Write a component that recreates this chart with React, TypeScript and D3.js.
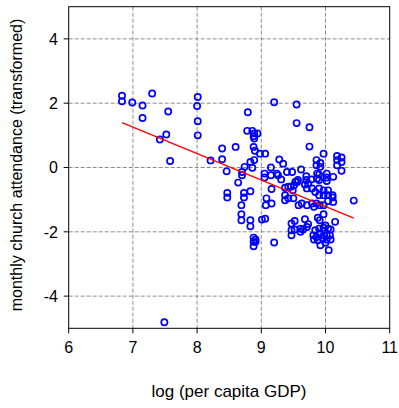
import React from "react";
import * as d3 from "d3";

const gdpLog: number[] = [
  6.83, 6.83, 6.99, 7.15, 7.30, 7.15, 7.55, 7.52, 7.42, 7.58, 8.01, 8.00, 8.01, 8.01, 8.21, 8.39, 8.39, 7.49,
  8.46, 8.47, 8.47, 8.60, 8.64, 8.70, 8.70, 8.74, 8.73, 8.73, 8.83, 8.69, 8.69, 8.69, 8.83, 8.83,
  8.79, 8.78, 8.86, 8.89, 8.88, 8.89, 8.94, 8.88, 8.90, 8.83, 8.89, 8.86,
  8.88, 8.91, 8.88, 8.91, 8.88,
  8.98, 9.06, 9.05, 9.05, 9.15, 9.15, 9.24, 9.26, 9.28, 9.34, 9.20, 9.16, 9.08, 9.07, 9.16, 9.01, 9.06, 9.20,
  9.31, 9.40, 9.48, 9.37, 9.42, 9.49, 9.37, 9.42, 9.50, 9.37, 9.46, 9.51, 9.53, 9.57,
  9.55, 9.55, 9.75, 9.75, 9.97,
  9.62, 9.70, 9.70, 9.78,
  9.86, 9.92, 9.86, 9.92,
  10.18, 10.25, 10.18, 10.25, 10.18, 10.25, 10.12,
  9.87, 9.90, 9.87, 9.90, 10.02, 10.02, 10.02,
  9.56, 9.68, 9.73, 9.71, 9.79, 9.84,
  9.90, 9.97, 10.04, 9.90, 9.97, 10.04, 10.11,
  9.58, 9.63, 9.71, 9.79, 9.82, 9.86, 9.91, 9.97, 10.04, 10.12, 10.11,
  10.44, 9.97, 9.91, 9.88, 9.68, 9.52, 9.47, 9.73, 9.71, 9.47, 9.52, 9.61, 9.65, 9.61, 9.47, 10.15, 10.00,
  9.84, 9.90, 9.97, 10.04, 10.08, 9.81, 9.86, 9.91, 9.97, 10.02, 10.07, 9.82, 9.88, 9.96, 10.02, 10.08, 9.92, 10.00, 10.05,
];

const attendance: number[] = [
  2.23, 2.06, 2.02, 1.93, 2.30, 1.54, 1.74, 1.03, 0.87, 0.20, 2.19, 1.91, 1.44, 1.00, 0.22, 0.59, 0.26, -4.81,
  -0.12, -0.79, -0.93, 0.64, -0.47, -0.14, -0.24, 0.02, -0.79, -0.93, -0.74, -1.17, -1.45, -1.64, -1.64, -1.83,
  1.72, 1.14, 1.14, 1.06, 0.97, 0.90, 1.06, 0.64, 0.52, 0.17, 0.23, -0.01,
  -2.18, -2.24, -2.31, -2.31, -2.45,
  0.43, 0.43, -0.19, -0.31, 0.00, -0.24, -0.19, -0.24, 0.25, 0.12, 2.03, -0.67, -0.96, -1.17, -1.12, -1.62, -1.59, -2.33,
  -0.37, -0.14, -0.14, -0.63, -0.60, -0.71, -0.86, -0.96, -0.96, -1.02, -0.60, -0.55, -0.45, -0.39,
  1.96, 1.38, 1.25, 0.65, 0.43,
  -0.06, -0.27, -0.39, -0.37,
  0.23, 0.14, 0.07, 0.02,
  0.36, 0.31, 0.23, 0.17, 0.07, -0.10, -0.29,
  -0.19, -0.22, -0.34, -0.39, -0.19, -0.31, -0.42,
  -0.45, -0.53, -0.50, -0.65, -0.65, -0.76,
  -0.65, -0.71, -0.71, -0.86, -0.86, -0.86, -0.86,
  -1.17, -1.12, -1.17, -1.12, -1.22, -1.12, -1.17, -1.17, -1.04, -1.07, -0.93,
  -1.03, -1.45, -1.64, -1.56, -1.61, -1.66, -1.74, -1.76, -1.85, -1.95, -1.93, -1.90, -1.93, -2.00, -2.11, -1.69, -1.80,
  -1.95, -1.90, -1.87, -1.90, -1.93, -2.11, -2.16, -2.05, -2.11, -2.11, -2.11, -2.24, -2.26, -2.21, -2.24, -2.24, -2.42, -2.34, -2.57,
];

const fitIntercept = 7.01;
const fitSlope = -0.822;

const xTicks: number[] = [6, 7, 8, 9, 10, 11];
const yTicks: number[] = [-4, -2, 0, 2, 4];
const xTitle = "log (per capita GDP)";
const yTitle = "monthly church attendance (transformed)";

const W = 399;
const H = 408;
const L = 68.7;
const R = 389.7;
const T = 6.7;
const B = 328.3;
const FONT = "'Liberation Sans', Arial, sans-serif";

export default function App() {
  const x = d3.scaleLinear().domain([6, 11]).range([L, R]);
  const y = d3.scaleLinear().domain([-5, 5]).range([B, T]);
  const pts = gdpLog.map((g, i) => ({ g, a: attendance[i] }));
  const [xmin, xmax] = d3.extent(gdpLog) as [number, number];
  const fitLine = d3
    .line<number>()
    .x((d) => x(d))
    .y((d) => y(fitIntercept + fitSlope * d));

  return (
    <svg width={W} height={H} style={{ position: "absolute", left: 0, top: 0, background: "#fff" }}>
      <rect x={0} y={0} width={W} height={H} fill="#fff" />
      <g stroke="#8c8c8c" strokeWidth={1} strokeDasharray="4 2">
        {xTicks.filter((t) => t > 6 && t < 11).map((t) => (
          <line key={"gx" + t} x1={x(t)} x2={x(t)} y1={T} y2={B} />
        ))}
        {yTicks.map((t) => (
          <line key={"gy" + t} x1={L} x2={R} y1={y(t)} y2={y(t)} />
        ))}
      </g>
      <g fill="none" stroke="#0000ff" strokeWidth={1.7}>
        {pts.map((p, i) => (
          <circle key={i} cx={x(p.g)} cy={y(p.a)} r={3.1} />
        ))}
      </g>
      <path d={fitLine([xmin, xmax]) || ""} stroke="#ff0000" strokeWidth={1.4} fill="none" />
      <rect x={L} y={T} width={R - L} height={B - T} fill="none" stroke="#000" strokeWidth={1} />
      <g stroke="#000" strokeWidth={1}>
        {xTicks.map((t) => (
          <line key={"tx" + t} x1={x(t)} x2={x(t)} y1={B} y2={B + 5} />
        ))}
        {yTicks.map((t) => (
          <line key={"ty" + t} x1={L - 5} x2={L} y1={y(t)} y2={y(t)} />
        ))}
      </g>
      <g fontFamily={FONT} fontSize={16} fill="#000">
        {xTicks.map((t) => (
          <text key={"lx" + t} x={x(t)} y={353} textAnchor="middle">
            {t}
          </text>
        ))}
        {yTicks.map((t) => (
          <text key={"ly" + t} x={58} y={y(t) + 5.8} textAnchor="end">
            {t}
          </text>
        ))}
      </g>
      <text x={229} y={397} textAnchor="middle" fontFamily={FONT} fontSize={17} fill="#000">
        {xTitle}
      </text>
      <text
        transform={`translate(22,165) rotate(-90)`}
        textAnchor="middle"
        fontFamily={FONT}
        fontSize={16}
        fill="#000"
      >
        {yTitle}
      </text>
    </svg>
  );
}
